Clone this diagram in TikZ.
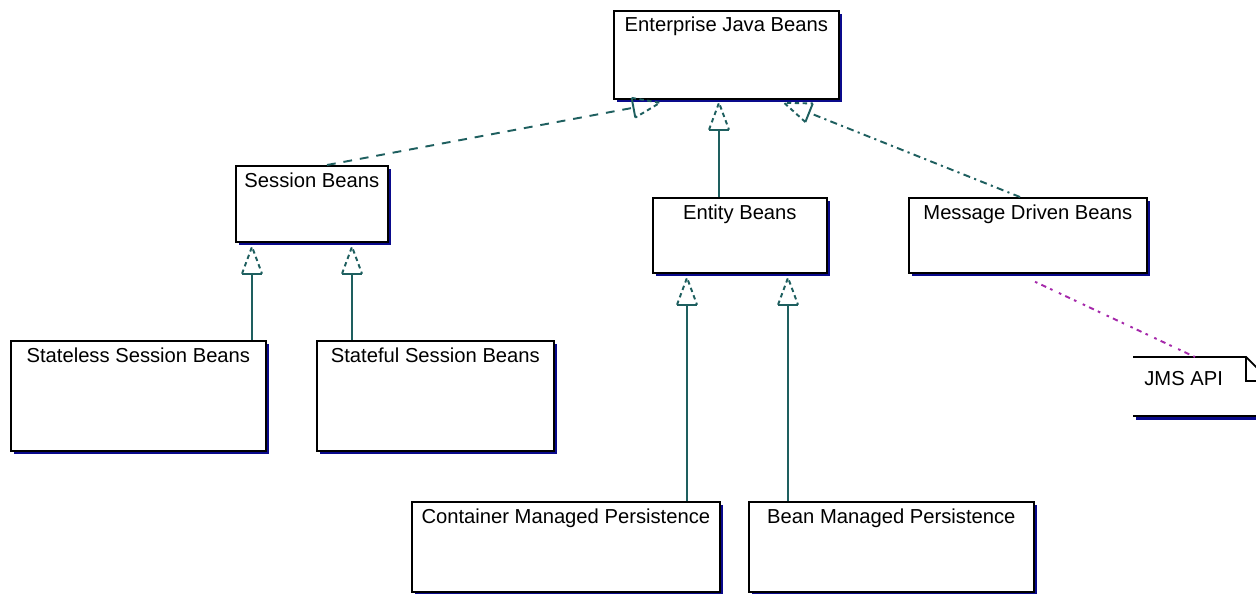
\documentclass[tikz,border=0pt]{standalone}
\usepackage{fontspec}
\setmainfont{Liberation Sans}
\usetikzlibrary{calc,shadows}
\definecolor{umlteal}{RGB}{30,95,95}
\definecolor{shadeblue}{RGB}{10,10,140}
\definecolor{deplink}{RGB}{165,40,170}

% hollow generalization head: #1 = line start, #2 = tip
\newcommand\genhead[2]{%
  \coordinate (gtB) at ($(#2)!0.54cm!(#1)$);
  \coordinate (gtL) at ($(gtB)!0.2cm!90:(#2)$);
  \coordinate (gtR) at ($(gtB)!0.2cm!-90:(#2)$);
  \draw[tri] (gtL) -- (#2) -- (gtR);
  \draw[link] (gtL) -- (gtR);
}

\begin{document}
\begin{tikzpicture}[x=0.02cm,y=-0.02cm,
  cls/.style={draw=black, line width=1pt, fill=white, anchor=north west,
    inner sep=0, drop shadow={shadow xshift=0.06cm, shadow yshift=-0.06cm,
    fill=shadeblue, opacity=1}},
  ttl/.style={anchor=north, inner sep=0, font=\fontsize{11.5}{13}\selectfont,
    yshift=-0.14cm},
  link/.style={draw=umlteal, line width=1.1pt},
  tri/.style={draw=umlteal, line width=1.1pt, dash pattern=on 2.5pt off 2pt},
  realline/.style={link, dash pattern=on 5pt off 4.5pt},
  dashdotline/.style={link, dash pattern=on 4pt off 2.5pt on 1.2pt off 2.5pt},
  depline/.style={draw=deplink, line width=1.1pt,
    dash pattern=on 1.5pt off 2.5pt on 3pt off 2.5pt on 1.5pt off 4pt}
]
\useasboundingbox (0,0) rectangle (1256,593);
\fill[white] (0,0) rectangle (1256,593);
\clip (0,0) rectangle (1256,593);

% classes
\node[cls, minimum width=4.5cm,  minimum height=1.76cm] (ejb)       at (613,10)  {};
\node[cls, minimum width=3.04cm, minimum height=1.52cm] (session)   at (235,165) {};
\node[cls, minimum width=3.48cm, minimum height=1.5cm]  (entity)    at (652,197) {};
\node[cls, minimum width=4.76cm, minimum height=1.5cm]  (mdb)       at (908,197) {};
\node[cls, minimum width=5.1cm,  minimum height=2.2cm]  (stateless) at (10,340)  {};
\node[cls, minimum width=4.74cm, minimum height=2.2cm]  (stateful)  at (316,340) {};
\node[cls, minimum width=6.16cm, minimum height=1.8cm]  (cmp)       at (411,501) {};
\node[cls, minimum width=5.7cm,  minimum height=1.8cm]  (bmp)       at (748,501) {};

\node[ttl] (ejbT)       at (ejb.north)       {Enterprise Java Beans};
\node[ttl] (sessionT)   at (session.north)   {Session Beans};
\node[ttl] (entityT)    at (entity.north)    {Entity Beans};
\node[ttl] (mdbT)       at (mdb.north)       {Message Driven Beans};
\node[ttl] (statelessT) at (stateless.north) {Stateless Session Beans};
\node[ttl] (statefulT)  at (stateful.north)  {Stateful Session Beans};
\node[ttl] (cmpT)       at (cmp.north)       {Container Managed Persistence};
\node[ttl] (bmpT)       at (bmp.north)       {Bean Managed Persistence};

% note with folded corner
\node[anchor=north west, inner sep=0, minimum width=2.8cm, minimum height=1.16cm] (note) at (1133,357) {};
\draw[black, line width=1pt] (note.north west) -- ++(113,0) coordinate (fold)
  -- ++(12,12);
\draw[black, line width=1pt] (fold) -- ++(0,24) -- ++(30,0);
\draw[shadeblue, line width=1.6pt] ($(note.south west)+(3,2.5)$) -- ++(200,0);
\draw[black, line width=1pt] (note.south west) -- ++(200,0);
\node[anchor=west, inner sep=0, font=\fontsize{11.5}{13}\selectfont] (noteT)
  at ($(note.north west)+(11,22)$) {JMS API};

% connector end points
\coordinate (a1) at ($(stateless.north west)+(242,0)$);
\coordinate (t1) at ($(session.south west)+(17,4)$);
\coordinate (a2) at ($(stateful.north west)+(36,0)$);
\coordinate (t2) at ($(session.south west)+(117,4)$);
\coordinate (a3) at ($(cmp.north west)+(276,0)$);
\coordinate (t3) at ($(entity.south west)+(35,4)$);
\coordinate (a4) at ($(bmp.north west)+(40,0)$);
\coordinate (t4) at ($(entity.south west)+(136,4)$);
\coordinate (a5) at ($(entity.north west)+(67,0)$);
\coordinate (t5) at ($(ejb.south west)+(106,3)$);
\coordinate (a6) at ($(session.north west)+(92,0)$);
\coordinate (t6) at ($(ejb.south west)+(47,3)$);
\coordinate (a7) at ($(mdb.north west)+(112,0)$);
\coordinate (t7) at ($(ejb.south west)+(171,3)$);
\coordinate (a8) at ($(mdb.south west)+(127,8)$);
\coordinate (t8) at ($(note.north west)+(62,0)$);

% generalizations
\draw[link] (a1) -- ($(t1)!0.54cm!(a1)$); \genhead{a1}{t1}
\draw[link] (a2) -- ($(t2)!0.54cm!(a2)$); \genhead{a2}{t2}
\draw[link] (a3) -- ($(t3)!0.54cm!(a3)$); \genhead{a3}{t3}
\draw[link] (a4) -- ($(t4)!0.54cm!(a4)$); \genhead{a4}{t4}
\draw[link] (a5) -- ($(t5)!0.54cm!(a5)$); \genhead{a5}{t5}
% realizations
\draw[realline] (a6) -- ($(t6)!0.54cm!(a6)$); \genhead{a6}{t6}
\draw[dashdotline] (a7) -- ($(t7)!0.54cm!(a7)$); \genhead{a7}{t7}
% dependency to the note
\draw[depline] (a8) -- (t8);
\end{tikzpicture}
\end{document}
